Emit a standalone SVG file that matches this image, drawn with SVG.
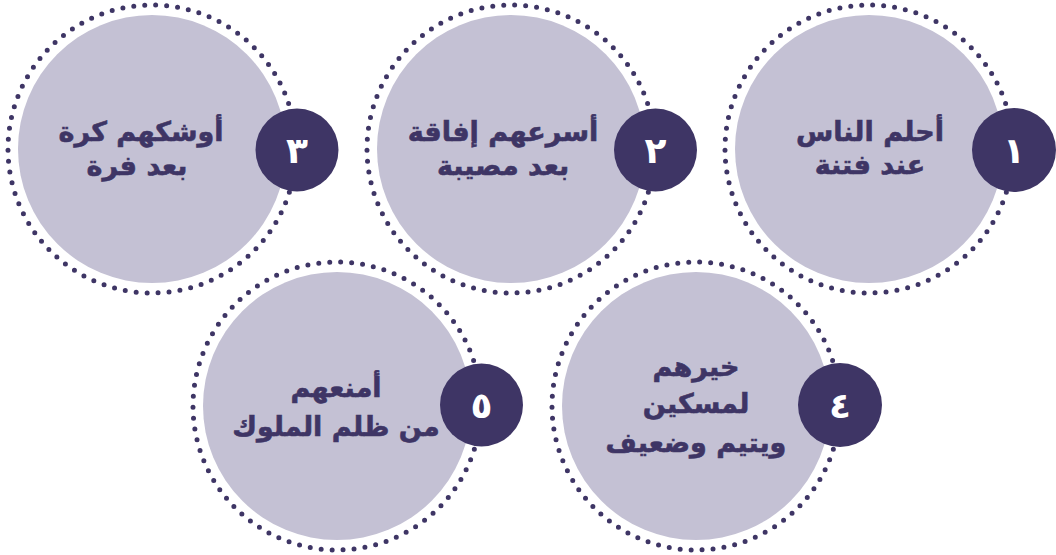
<svg xmlns="http://www.w3.org/2000/svg" width="1056" height="555" viewBox="0 0 1056 555">
<style>
.ring{fill:none;stroke:#3e3565;stroke-width:5;stroke-linecap:round;stroke-dasharray:0 11}
.fill{fill:#c4c1d4}
.badge{fill:#3e3565}
.lbl{font-family:"DejaVu Sans",sans-serif;font-weight:bold;font-size:27px;fill:#3e3565;stroke:#3e3565;stroke-width:0.6;text-anchor:middle}
.num{font-family:"DejaVu Sans",sans-serif;font-weight:bold;font-size:36px;fill:#ffffff;text-anchor:middle}
</style>
<rect width="1056" height="555" fill="#ffffff"/>
<g id="connectors"></g>
<g id="node1">
<circle class="ring" cx="869" cy="149" r="144"/>
<circle class="fill" cx="869" cy="149" r="134"/>
<text class="lbl" x="870" y="141" direction="rtl">أحلم الناس</text>
<text class="lbl" x="870" y="174" direction="rtl">عند فتنة</text>
<circle class="badge" cx="1014" cy="150" r="42"/>
<text class="num" x="1014" y="163">١</text>
</g>
<g id="node2">
<circle class="ring" cx="511" cy="149" r="144"/>
<circle class="fill" cx="511" cy="149" r="134"/>
<text class="lbl" x="503" y="141" direction="rtl">أسرعهم إفاقة</text>
<text class="lbl" x="503" y="175" direction="rtl">بعد مصيبة</text>
<circle class="badge" cx="655.5" cy="150" r="41.5"/>
<text class="num" x="655.5" y="163">٢</text>
</g>
<g id="node3">
<circle class="ring" cx="152" cy="149" r="144"/>
<circle class="fill" cx="152" cy="149" r="134"/>
<text class="lbl" x="141" y="141" direction="rtl">أوشكهم كرة</text>
<text class="lbl" x="137" y="175" direction="rtl">بعد فرة</text>
<circle class="badge" cx="297" cy="150" r="41.5"/>
<text class="num" x="297" y="163">٣</text>
</g>
<g id="node4">
<circle class="ring" cx="696" cy="406" r="144"/>
<circle class="fill" cx="696" cy="406" r="134"/>
<text class="lbl" x="696" y="376" direction="rtl">خيرهم</text>
<text class="lbl" x="696" y="413" direction="rtl">لمسكين</text>
<text class="lbl" x="696" y="452" direction="rtl">ويتيم وضعيف</text>
<circle class="badge" cx="840" cy="405" r="42"/>
<text class="num" x="840" y="418">٤</text>
</g>
<g id="node5">
<circle class="ring" cx="337" cy="406" r="144"/>
<circle class="fill" cx="337" cy="406" r="134"/>
<text class="lbl" x="336" y="397" direction="rtl">أمنعهم</text>
<text class="lbl" x="336" y="436" direction="rtl">من ظلم الملوك</text>
<circle class="badge" cx="481.5" cy="405" r="41.5"/>
<text class="num" x="481.5" y="418">٥</text>
</g>
</svg>
